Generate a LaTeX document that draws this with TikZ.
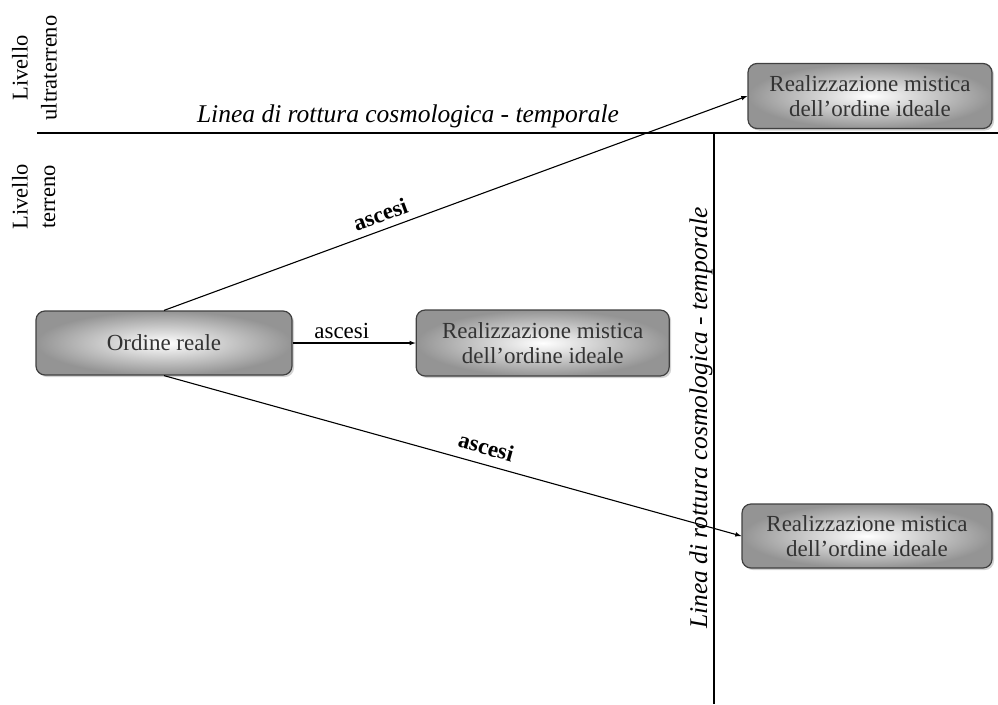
\documentclass[tikz,border=0pt]{standalone}
\usepackage{fontspec}
\setmainfont{Liberation Serif}
\usetikzlibrary{shadows,positioning}

\tikzstyle{block} = [rectangle, draw=black!75, line width=1.2pt, rounded corners=9pt,
    inner color=white, outer color=black!42, minimum width=250pt, minimum height=64pt,
    align=center, text=black!80, font=\fontsize{23}{25}\selectfont,
    drop shadow={opacity=0.35, shadow xshift=2pt, shadow yshift=-2pt}]
\tikzstyle{line} = [draw, -latex, line width=1.1pt]
\tikzstyle{cut} = [draw, line width=2.8pt]
\tikzstyle{cutlabel} = [font=\fontsize{25.5}{28}\selectfont\itshape]
\tikzstyle{level} = [rotate=90, font=\fontsize{22.5}{25}\selectfont]
\tikzstyle{steplabel} = [font=\fontsize{23}{25}\selectfont, inner sep=7pt]

\begin{document}
\begin{tikzpicture}[x=1pt, y=-1pt]
    \useasboundingbox (0,0) rectangle (998,704);

    % LEVELS
        \node [level] (lev1)  at (20,68)  {Livello};
        \node [level] (lev1b) at (49,68)  {ultraterreno};
        \node [level] (lev2)  at (20,197) {Livello};
        \node [level] (lev2b) at (49,197) {terreno};

    % BREAK LINES
        \coordinate (hleft)  at (37,133);
        \coordinate (hright) at (998,133);
        \coordinate (vtop)   at (714,133);
        \coordinate (vbot)   at (714,704);
        \path[cut] (hleft) -- (hright);
        \path[cut, line width=2.2pt] (vtop) -- (vbot);
        \node [cutlabel] (hlabel) at (408,116) {Linea di rottura cosmologica - temporale};
        \node [cutlabel, rotate=90] (vlabel) at (701,418) {Linea di rottura cosmologica - temporale};

    % ORDER
        \node [block, minimum width=256pt] 
            (real) at (164,343) {Ordine reale};
    % REALIZATIONS
        \node [block, right=123pt of real, minimum width=253pt, minimum height=66pt] 
            (mid) {Realizzazione mistica\\dell'ordine ideale};
        \node [block, minimum width=244pt, minimum height=65pt] 
            (top) at (870,96) {Realizzazione mistica\\dell'ordine ideale};
        \node [block] 
            (bot) at (867,536) {Realizzazione mistica\\dell'ordine ideale};

    % LINES real -> realizations
        \path[line] (real.north) -- node[steplabel, sloped, above, pos=0.38] {\textbf{ascesi}} (top.west);
        \path[line] (real.east) -- node[steplabel, above, pos=0.4, inner sep=4pt] {ascesi} (mid.west);
        \path[line] (real.south) -- node[steplabel, sloped, above, pos=0.55, inner sep=9pt] {\textbf{ascesi}} (bot.west);
\end{tikzpicture}
\end{document}
